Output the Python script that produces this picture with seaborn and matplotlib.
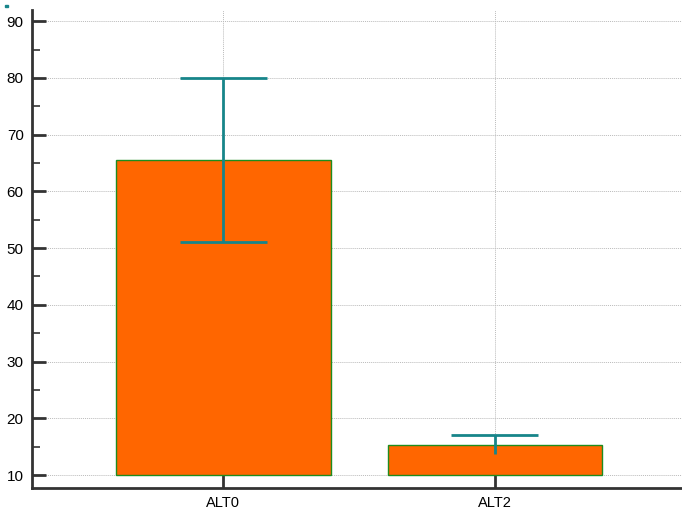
import matplotlib
matplotlib.use("Agg")
import matplotlib.pyplot as plt
import seaborn as sns
import pandas as pd

# Data
categories = ["ALT0", "ALT2"]
means = [65.5, 15.3]
err_low = [51.0, 13.7]
err_high = [80.0, 17.0]
lower_cap = [True, False]
baseline = 10.0
y_ticks = [10, 20, 30, 40, 50, 60, 70, 80, 90]

sns.set_theme(style="white")
plt.rcParams["font.family"] = ["Liberation Sans", "DejaVu Sans"]

fig = plt.figure(figsize=(6.82, 5.17), dpi=100)
ax = fig.add_axes([0.047, 0.056, 0.953, 0.925])

df = pd.DataFrame({"cat": categories,
                   "height": [m - baseline for m in means]})
sns.barplot(data=df, x="cat", y="height", bottom=baseline, width=0.79,
            color="#FF6600", saturation=1, edgecolor="#1E8C1E",
            linewidth=1.0, errorbar=None, ax=ax, zorder=2)

# Error bars
err_color = "#17858A"
xs = list(range(len(categories)))
ax.vlines(xs, err_low, err_high, color=err_color, linewidth=2.0, zorder=3)
ax.hlines(err_high, [x - 0.16 for x in xs], [x + 0.16 for x in xs],
          color=err_color, linewidth=2.0, zorder=3)
low_x = [x for x, c in zip(xs, lower_cap) if c]
low_y = [v for v, c in zip(err_low, lower_cap) if c]
ax.hlines(low_y, [x - 0.16 for x in low_x], [x + 0.16 for x in low_x],
          color=err_color, linewidth=2.0, zorder=3)

ax.set_xlim(-0.705, 1.69)
ax.set_ylim(7.7, 92)
ax.set_yticks(y_ticks)
ax.set_yticks([t + 5 for t in y_ticks[:-1]], minor=True)
ax.set_xlabel("")
ax.set_ylabel("")

ax.grid(True, which="major", color="#BBBBBB", linestyle=(0, (1, 1)),
        linewidth=0.7, zorder=0)
ax.set_axisbelow(True)

for side in ["top", "right"]:
    ax.spines[side].set_visible(False)
for side in ["left", "bottom"]:
    ax.spines[side].set_color("#333333")
    ax.spines[side].set_linewidth(2.0)

ax.tick_params(axis="y", which="major", direction="in", length=10, width=2,
               color="#333333", labelsize=11, labelcolor="black", pad=6,
               left=True)
ax.tick_params(axis="y", which="minor", direction="in", length=6, width=1.2,
               color="#333333", left=True)
ax.tick_params(axis="x", which="major", direction="in", length=11, width=2,
               color="#333333", labelsize=10.5, labelcolor="black", pad=6,
               bottom=True)

fig.patches.append(plt.Rectangle((0.008, 0.986), 0.003, 0.004,
                                 transform=fig.transFigure,
                                 color=err_color, figure=fig))

fig.savefig("out.png", dpi=100)
